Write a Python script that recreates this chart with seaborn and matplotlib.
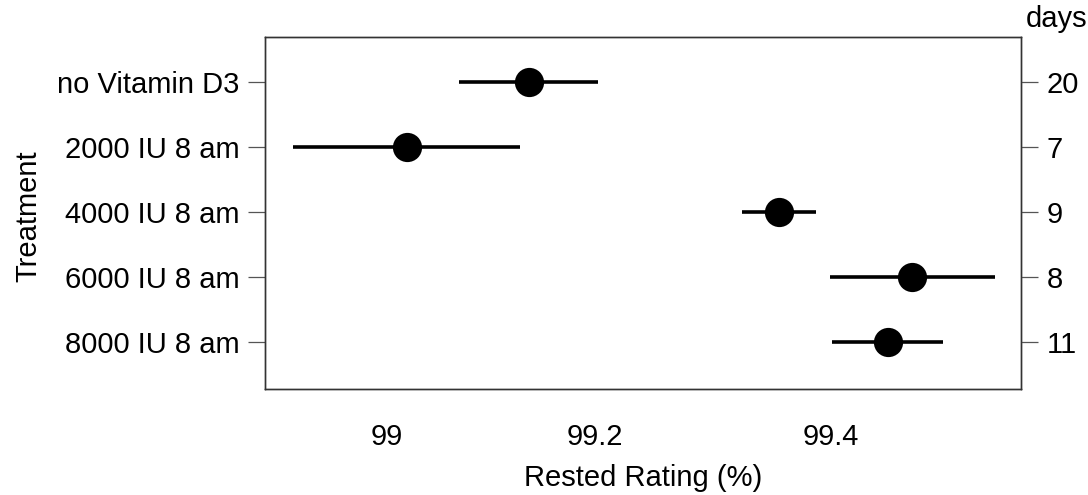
import numpy as np
import pandas as pd
import matplotlib
matplotlib.use("Agg")
import matplotlib.pyplot as plt
import seaborn as sns

# Treatment groups, point estimates and interval bounds (Rested Rating, %)
treatments = ["no Vitamin D3", "2000 IU 8 am", "4000 IU 8 am", "6000 IU 8 am", "8000 IU 8 am"]
estimate = [99.139, 99.021, 99.358, 99.462, 99.444]
lower = [99.072, 98.903, 99.328, 99.399, 99.401]
upper = [99.203, 99.131, 99.388, 99.522, 99.485]
days = ["20", "7", "9", "8", "11"]

x_ticks = [99, 99.2, 99.4]
x_tick_labels = ["99", "99.2", "99.4"]

# Long table: each treatment carries its lower bound, estimate and upper bound;
# the median gives the point, min/max give the interval.
df = pd.DataFrame({
    "Treatment": np.repeat(treatments, 3),
    "value": np.ravel(np.column_stack([lower, estimate, upper])),
})

sns.set_theme(style="white")
plt.rcParams["font.family"] = ["Liberation Sans", "DejaVu Sans"]
plt.rcParams["text.color"] = "black"
plt.rcParams["axes.labelcolor"] = "black"

FS = 21

fig = plt.figure(figsize=(10.88, 4.95), dpi=100)
ax = fig.add_axes([265 / 1088, 1 - 389 / 495, (1021 - 265) / 1088, (389 - 37) / 495])


# arcsine-square-root scale for percentages
def fwd(x):
    return np.arcsin(np.sqrt(np.clip(np.asarray(x, dtype=float) / 100.0, 0, 1)))


def inv(y):
    return 100.0 * np.sin(np.asarray(y, dtype=float)) ** 2


ax.set_xscale("function", functions=(fwd, inv))

sns.pointplot(
    data=df, x="value", y="Treatment", order=treatments,
    estimator="median", errorbar=lambda v: (v.min(), v.max()),
    color="black", markers="o", linestyle="none", markersize=19,
    err_kws={"linewidth": 2.6, "solid_capstyle": "butt"}, capsize=0, ax=ax,
)

ax.set_xlim(98.873, 99.540)
ax.set_ylim(4.72, -0.70)
ax.set_xticks(x_ticks)
ax.set_xticklabels(x_tick_labels)
ax.set_yticks(range(len(treatments)))
ax.set_yticklabels(treatments)
ax.minorticks_off()

spine_col = "#333333"
for s in ax.spines.values():
    s.set_color(spine_col)
    s.set_linewidth(1.0)

ax.tick_params(axis="x", length=12.5, width=0.9, color="#555555", pad=12, labelsize=FS, labelcolor="black")
ax.tick_params(axis="y", length=12.5, width=0.9, color="#555555", pad=6, labelsize=FS, labelcolor="black", left=True)

ax.set_xlabel("Rested Rating (%)", fontsize=FS, color="black")
ax.xaxis.set_label_coords(0.5, -0.213)
ax.set_ylabel("Treatment", fontsize=FS, color="black")
ax.yaxis.set_label_coords(-0.295, 0.49)

# Right-hand axis: number of days per treatment
ax2 = ax.twinx()
ax2.set_ylim(ax.get_ylim())
ax2.set_yticks(range(len(days)))
ax2.set_yticklabels(days)
ax2.tick_params(axis="y", length=12.5, width=0.9, color="#555555", pad=6, labelsize=FS, labelcolor="black", right=True)
ax2.grid(False)
for s in ax2.spines.values():
    s.set_color(spine_col)
    s.set_linewidth(1.0)

fig.text(1026 / 1088, 1 - 27 / 495, "days", fontsize=FS, ha="left", va="baseline", color="black")

fig.savefig("out.png", dpi=100, facecolor="white")
